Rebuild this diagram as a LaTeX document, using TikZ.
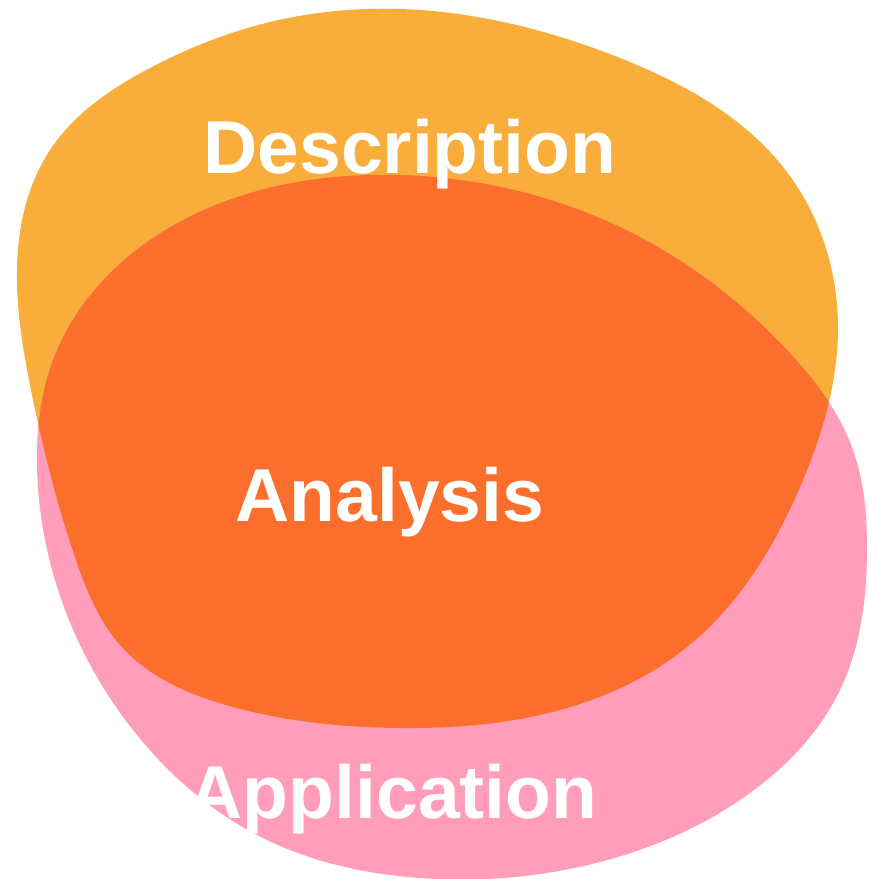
\documentclass[tikz,border=0pt]{standalone}
\usepackage{fontspec}
\setmainfont{Liberation Sans}
\usetikzlibrary{hobby}
\definecolor{descyellow}{HTML}{F9AE3B}
\definecolor{applpink}{HTML}{FF9DBA}
\definecolor{analorange}{HTML}{FB6E2C}
\begin{document}
\begin{tikzpicture}
  [x=1pt,y=-1pt,use Hobby shortcut,
   every node/.style={text=white,font=\fontsize{75}{80}\selectfont\bfseries,anchor=base,inner sep=0pt}]
  \useasboundingbox (0,0) rectangle (869,879);
  % blobs
  \path[save path=\descblob,closed=true] (400,9) .. (620,58) .. (787,172) .. (838,330) .. (803,480) .. (687,647) .. (520,719) .. (400,728) .. (233,707) .. (120,645) .. (76,560) .. (32,395) .. (17,270) .. (50,150) .. (150,68) .. (270,22);
  \path[save path=\applblob,closed=true] (400,175) .. (620,227) .. (787,350) .. (853,450) .. (867,550) .. (840,690) .. (750,793) .. (600,862) .. (420,878) .. (267,840) .. (133,730) .. (55,580) .. (37,465) .. (53,360) .. (130,255) .. (250,193);
  \fill[descyellow, use path=\descblob];
  \fill[applpink, use path=\applblob];
  \begin{scope}
    \clip[use path=\descblob];
    \fill[analorange, use path=\applblob];
  \end{scope}

  \node (desc) at (410,173) {Description};
  \node (anal) at (390,521) {Analysis};
  \node (appl) at (393,818) {Application};
\end{tikzpicture}
\end{document}
